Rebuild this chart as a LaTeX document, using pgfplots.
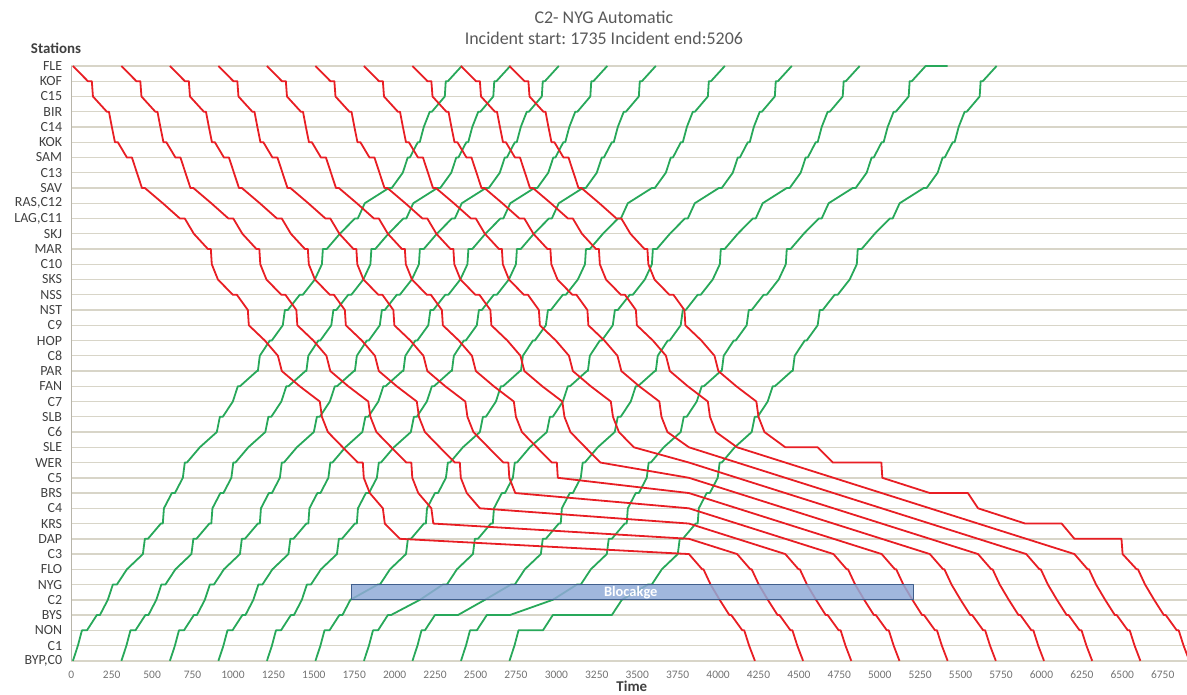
\documentclass[border=0pt]{standalone}
\usepackage{fontspec}
\setmainfont{Carlito}
\usepackage{pgfplots}
\pgfplotsset{compat=1.18}
\definecolor{rline}{RGB}{232,30,36}
\definecolor{gline}{RGB}{40,168,90}
\definecolor{gridc}{RGB}{216,213,200}
\definecolor{boxfill}{RGB}{143,170,215}
\definecolor{boxedge}{RGB}{65,95,140}
\definecolor{txt}{RGB}{64,64,64}
\definecolor{ttl}{RGB}{89,89,89}
\definecolor{tickc}{RGB}{115,115,115}
\frenchspacing
\begin{document}
\begin{tikzpicture}
\begin{axis}[
  scale only axis, width=1116bp, height=595bp,
  xmin=0, xmax=6900, ymin=0, ymax=39,
  clip=false,
  axis x line*=bottom, axis y line*=left,
  x axis line style={draw=none},
  y axis line style={draw=gridc!85!black, line width=1.4bp},
  major tick length=0pt,
  xtick={0,250,...,6750},
  ytick={0,...,39},
  yticklabels={{BYP,C0},C1,NON,BYS,C2,NYG,FLO,C3,DAP,KRS,C4,BRS,C5,WER,SLE,C6,SLB,C7,FAN,PAR,C8,HOP,C9,NST,NSS,SKS,C10,MAR,SKJ,{LAG,C11},{RAS,C12},SAV,C13,SAM,KOK,C14,BIR,C15,KOF,FLE},
  ymajorgrids, grid style={draw=gridc, line width=1.4bp},
  xticklabel style={font=\fontsize{11.5}{12}\selectfont, text=tickc, inner sep=0pt, yshift=-10bp},
  yticklabel style={font=\fontsize{14}{15}\selectfont, text=txt, inner sep=0pt, xshift=-9bp},
  /pgf/number format/assume math mode=true,
  /pgf/number format/1000 sep={},
  every axis plot/.append style={line width=1.8bp, line join=round},
]
% northbound (green)
\addplot[gline] coordinates {(10,0)(41,1)(66,2)(97,2)(158,3)(177,3)(226,4)(257,5)(282,5)(344,6)(443,7)(455,8)(474,8)(554,9)(566,9)(573,10)(622,11)(641,11)(690,12)(702,13)(715,13)(795,14)(900,15)(919,16)(937,16)(999,17)(1030,18)(1043,18)(1148,19)(1154,19)(1166,20)(1228,21)(1240,21)(1308,22)(1321,23)(1339,23)(1413,24)(1432,24)(1506,25)(1550,26)(1556,27)(1580,27)(1661,28)(1754,29)(1772,29)(1815,30)(1964,31)(1982,31)(2050,32)(2081,33)(2094,33)(2143,34)(2155,34)(2180,35)(2217,36)(2230,36)(2310,37)(2316,38)(2329,38)(2415,39)};
\addplot[gline] coordinates {(310,0)(341,1)(366,2)(397,2)(458,3)(477,3)(526,4)(557,5)(582,5)(644,6)(743,7)(755,8)(774,8)(854,9)(866,9)(873,10)(922,11)(941,11)(990,12)(1002,13)(1015,13)(1095,14)(1200,15)(1219,16)(1237,16)(1299,17)(1330,18)(1343,18)(1448,19)(1454,19)(1466,20)(1528,21)(1540,21)(1608,22)(1621,23)(1639,23)(1713,24)(1732,24)(1806,25)(1850,26)(1856,27)(1880,27)(1961,28)(2054,29)(2072,29)(2115,30)(2264,31)(2282,31)(2350,32)(2381,33)(2394,33)(2443,34)(2455,34)(2480,35)(2517,36)(2530,36)(2610,37)(2616,38)(2629,38)(2715,39)};
\addplot[gline] coordinates {(610,0)(641,1)(666,2)(697,2)(758,3)(777,3)(826,4)(857,5)(882,5)(944,6)(1043,7)(1055,8)(1074,8)(1154,9)(1166,9)(1173,10)(1222,11)(1241,11)(1290,12)(1302,13)(1315,13)(1395,14)(1500,15)(1519,16)(1537,16)(1599,17)(1630,18)(1643,18)(1748,19)(1754,19)(1766,20)(1828,21)(1840,21)(1908,22)(1921,23)(1939,23)(2013,24)(2032,24)(2106,25)(2150,26)(2156,27)(2180,27)(2261,28)(2354,29)(2372,29)(2415,30)(2564,31)(2582,31)(2650,32)(2681,33)(2694,33)(2743,34)(2755,34)(2780,35)(2817,36)(2830,36)(2910,37)(2916,38)(2929,38)(3015,39)};
\addplot[gline] coordinates {(910,0)(941,1)(966,2)(997,2)(1058,3)(1077,3)(1126,4)(1157,5)(1182,5)(1244,6)(1343,7)(1355,8)(1374,8)(1454,9)(1466,9)(1473,10)(1522,11)(1541,11)(1590,12)(1602,13)(1615,13)(1695,14)(1800,15)(1819,16)(1837,16)(1899,17)(1930,18)(1943,18)(2048,19)(2054,19)(2066,20)(2128,21)(2140,21)(2208,22)(2221,23)(2239,23)(2313,24)(2332,24)(2406,25)(2450,26)(2456,27)(2480,27)(2561,28)(2654,29)(2672,29)(2715,30)(2864,31)(2882,31)(2950,32)(2981,33)(2994,33)(3043,34)(3055,34)(3080,35)(3117,36)(3130,36)(3210,37)(3216,38)(3229,38)(3315,39)};
\addplot[gline] coordinates {(1210,0)(1241,1)(1266,2)(1297,2)(1358,3)(1377,3)(1426,4)(1457,5)(1482,5)(1544,6)(1643,7)(1655,8)(1674,8)(1754,9)(1766,9)(1773,10)(1822,11)(1841,11)(1890,12)(1902,13)(1915,13)(1995,14)(2100,15)(2119,16)(2137,16)(2199,17)(2230,18)(2243,18)(2348,19)(2354,19)(2366,20)(2428,21)(2440,21)(2508,22)(2521,23)(2539,23)(2613,24)(2632,24)(2706,25)(2750,26)(2756,27)(2780,27)(2861,28)(2954,29)(2972,29)(3015,30)(3164,31)(3182,31)(3250,32)(3281,33)(3294,33)(3343,34)(3355,34)(3380,35)(3417,36)(3430,36)(3510,37)(3516,38)(3529,38)(3615,39)};
\addplot[gline] coordinates {(1510,0)(1541,1)(1566,2)(1597,2)(1658,3)(1677,3)(1726,4)(1895,5)(1909,5)(1971,6)(2070,7)(2082,8)(2101,8)(2181,9)(2193,9)(2200,10)(2249,11)(2268,11)(2317,12)(2329,13)(2342,13)(2422,14)(2527,15)(2546,16)(2564,16)(2626,17)(2657,18)(2670,18)(2775,19)(2781,19)(2793,20)(2855,21)(2867,21)(2935,22)(2948,23)(2966,23)(3040,24)(3059,24)(3133,25)(3177,26)(3183,27)(3207,27)(3288,28)(3381,29)(3399,29)(3442,30)(3591,31)(3609,31)(3677,32)(3708,33)(3721,33)(3770,34)(3782,34)(3807,35)(3844,36)(3857,36)(3937,37)(3943,38)(3956,38)(4042,39)};
\addplot[gline] coordinates {(1810,0)(1841,1)(1866,2)(1897,2)(1958,3)(1977,3)(2156,4)(2298,5)(2323,5)(2385,6)(2484,7)(2496,8)(2515,8)(2595,9)(2607,9)(2614,10)(2663,11)(2682,11)(2731,12)(2743,13)(2756,13)(2836,14)(2941,15)(2960,16)(2978,16)(3040,17)(3071,18)(3084,18)(3189,19)(3195,19)(3207,20)(3269,21)(3281,21)(3349,22)(3362,23)(3380,23)(3454,24)(3473,24)(3547,25)(3591,26)(3597,27)(3621,27)(3702,28)(3795,29)(3813,29)(3856,30)(4005,31)(4023,31)(4091,32)(4122,33)(4135,33)(4184,34)(4196,34)(4221,35)(4258,36)(4271,36)(4351,37)(4357,38)(4370,38)(4456,39)};
\addplot[gline] coordinates {(2110,0)(2141,1)(2166,2)(2187,2)(2249,3)(2391,3)(2558,4)(2719,5)(2743,5)(2805,6)(2904,7)(2916,8)(2935,8)(3015,9)(3027,9)(3034,10)(3083,11)(3102,11)(3151,12)(3163,13)(3176,13)(3256,14)(3361,15)(3380,16)(3398,16)(3460,17)(3491,18)(3504,18)(3609,19)(3615,19)(3627,20)(3689,21)(3701,21)(3769,22)(3782,23)(3800,23)(3874,24)(3893,24)(3967,25)(4011,26)(4017,27)(4041,27)(4122,28)(4215,29)(4233,29)(4276,30)(4425,31)(4443,31)(4511,32)(4542,33)(4555,33)(4604,34)(4616,34)(4641,35)(4678,36)(4691,36)(4771,37)(4777,38)(4790,38)(4876,39)};
\addplot[gline] coordinates {(2410,0)(2441,1)(2466,2)(2508,2)(2570,3)(2712,3)(2978,4)(3127,5)(3151,5)(3213,6)(3312,7)(3324,8)(3343,8)(3423,9)(3435,9)(3442,10)(3491,11)(3510,11)(3559,12)(3571,13)(3584,13)(3664,14)(3769,15)(3788,16)(3806,16)(3868,17)(3899,18)(3912,18)(4017,19)(4023,19)(4035,20)(4097,21)(4109,21)(4177,22)(4190,23)(4208,23)(4282,24)(4301,24)(4375,25)(4419,26)(4425,27)(4449,27)(4530,28)(4623,29)(4641,29)(4684,30)(4833,31)(4851,31)(4919,32)(4950,33)(4963,33)(5012,34)(5024,34)(5049,35)(5086,36)(5099,36)(5179,37)(5185,38)(5198,38)(5284,39)(5420,39)};
\addplot[gline] coordinates {(2710,0)(2741,1)(2766,2)(2917,2)(2978,3)(3343,3)(3405,4)(3566,5)(3590,5)(3652,6)(3751,7)(3763,8)(3782,8)(3862,9)(3874,9)(3881,10)(3930,11)(3949,11)(3998,12)(4010,13)(4023,13)(4103,14)(4208,15)(4227,16)(4245,16)(4307,17)(4338,18)(4351,18)(4456,19)(4462,19)(4474,20)(4536,21)(4548,21)(4616,22)(4629,23)(4647,23)(4721,24)(4740,24)(4814,25)(4858,26)(4864,27)(4888,27)(4969,28)(5062,29)(5080,29)(5123,30)(5272,31)(5290,31)(5358,32)(5389,33)(5402,33)(5451,34)(5463,34)(5488,35)(5525,36)(5538,36)(5618,37)(5624,38)(5637,38)(5723,39)};
% southbound (red)
\addplot[rline] coordinates {(10,39)(103,38)(127,38)(134,37)(220,36)(233,36)(251,35)(270,34)(288,34)(344,33)(375,33)(406,32)(437,31)(455,31)(566,30)(672,29)(702,29)(758,28)(845,27)(863,27)(869,26)(907,25)(999,24)(1024,24)(1092,23)(1098,22)(1197,21)(1278,20)(1302,19)(1413,18)(1537,17)(1550,16)(1587,15)(1679,14)(1772,13)(1803,13)(1809,12)(1846,11)(1927,10)(1939,9)(2032,8)(3820,7)(3902,6)(3910,6)(3954,5)(4010,4)(4070,3)(4082,3)(4150,2)(4162,2)(4192,1)(4228,0)};
\addplot[rline] coordinates {(310,39)(403,38)(427,38)(434,37)(520,36)(533,36)(551,35)(570,34)(588,34)(644,33)(675,33)(706,32)(737,31)(755,31)(866,30)(972,29)(1002,29)(1058,28)(1145,27)(1163,27)(1169,26)(1207,25)(1299,24)(1324,24)(1392,23)(1398,22)(1497,21)(1578,20)(1602,19)(1713,18)(1837,17)(1850,16)(1887,15)(1979,14)(2072,13)(2103,13)(2109,12)(2146,11)(2227,10)(2239,9)(3820,8)(4118,7)(4200,6)(4208,6)(4252,5)(4308,4)(4368,3)(4380,3)(4448,2)(4460,2)(4490,1)(4526,0)};
\addplot[rline] coordinates {(610,39)(703,38)(727,38)(734,37)(820,36)(833,36)(851,35)(870,34)(888,34)(944,33)(975,33)(1006,32)(1037,31)(1055,31)(1166,30)(1272,29)(1302,29)(1358,28)(1445,27)(1463,27)(1469,26)(1507,25)(1599,24)(1624,24)(1692,23)(1698,22)(1797,21)(1878,20)(1902,19)(2013,18)(2137,17)(2150,16)(2187,15)(2279,14)(2372,13)(2403,13)(2409,12)(2446,11)(2527,10)(3820,9)(4118,8)(4416,7)(4498,6)(4506,6)(4550,5)(4606,4)(4666,3)(4678,3)(4746,2)(4758,2)(4788,1)(4824,0)};
\addplot[rline] coordinates {(910,39)(1003,38)(1027,38)(1034,37)(1120,36)(1133,36)(1151,35)(1170,34)(1188,34)(1244,33)(1275,33)(1306,32)(1337,31)(1355,31)(1466,30)(1572,29)(1602,29)(1658,28)(1745,27)(1763,27)(1769,26)(1807,25)(1899,24)(1924,24)(1992,23)(1998,22)(2097,21)(2178,20)(2202,19)(2313,18)(2437,17)(2450,16)(2487,15)(2579,14)(2672,13)(2703,13)(2709,12)(2746,11)(3820,10)(4118,9)(4416,8)(4714,7)(4796,6)(4804,6)(4848,5)(4904,4)(4964,3)(4976,3)(5044,2)(5056,2)(5086,1)(5122,0)};
\addplot[rline] coordinates {(1210,39)(1303,38)(1327,38)(1334,37)(1420,36)(1433,36)(1451,35)(1470,34)(1488,34)(1544,33)(1575,33)(1606,32)(1637,31)(1655,31)(1766,30)(1872,29)(1902,29)(1958,28)(2045,27)(2063,27)(2069,26)(2107,25)(2199,24)(2224,24)(2292,23)(2298,22)(2397,21)(2478,20)(2502,19)(2613,18)(2737,17)(2750,16)(2787,15)(2879,14)(2972,13)(3003,13)(3009,12)(3820,11)(4118,10)(4416,9)(4714,8)(5012,7)(5094,6)(5102,6)(5146,5)(5202,4)(5262,3)(5274,3)(5342,2)(5354,2)(5384,1)(5420,0)};
\addplot[rline] coordinates {(1510,39)(1603,38)(1627,38)(1634,37)(1720,36)(1733,36)(1751,35)(1770,34)(1788,34)(1844,33)(1875,33)(1906,32)(1937,31)(1955,31)(2066,30)(2172,29)(2202,29)(2258,28)(2345,27)(2363,27)(2369,26)(2407,25)(2499,24)(2524,24)(2592,23)(2598,22)(2697,21)(2778,20)(2802,19)(2913,18)(3037,17)(3050,16)(3087,15)(3179,14)(3272,13)(3820,12)(4118,11)(4416,10)(4714,9)(5012,8)(5310,7)(5392,6)(5400,6)(5444,5)(5500,4)(5560,3)(5572,3)(5640,2)(5652,2)(5682,1)(5718,0)};
\addplot[rline] coordinates {(1810,39)(1903,38)(1927,38)(1934,37)(2020,36)(2033,36)(2051,35)(2070,34)(2088,34)(2144,33)(2175,33)(2206,32)(2237,31)(2255,31)(2366,30)(2472,29)(2502,29)(2558,28)(2645,27)(2663,27)(2669,26)(2707,25)(2799,24)(2824,24)(2892,23)(2898,22)(2997,21)(3078,20)(3102,19)(3213,18)(3337,17)(3350,16)(3387,15)(3479,14)(3820,13)(4118,12)(4416,11)(4714,10)(5012,9)(5310,8)(5608,7)(5690,6)(5698,6)(5742,5)(5798,4)(5858,3)(5870,3)(5938,2)(5950,2)(5980,1)(6016,0)};
\addplot[rline] coordinates {(2110,39)(2203,38)(2227,38)(2234,37)(2320,36)(2333,36)(2351,35)(2370,34)(2388,34)(2444,33)(2475,33)(2506,32)(2537,31)(2555,31)(2666,30)(2772,29)(2802,29)(2858,28)(2945,27)(2963,27)(2969,26)(3007,25)(3099,24)(3124,24)(3192,23)(3198,22)(3297,21)(3378,20)(3402,19)(3513,18)(3637,17)(3650,16)(3687,15)(3820,14)(4118,13)(4416,12)(4714,11)(5012,10)(5310,9)(5608,8)(5906,7)(5988,6)(5996,6)(6040,5)(6096,4)(6156,3)(6168,3)(6236,2)(6248,2)(6278,1)(6314,0)};
\addplot[rline] coordinates {(2410,39)(2503,38)(2527,38)(2534,37)(2620,36)(2633,36)(2651,35)(2670,34)(2688,34)(2744,33)(2775,33)(2806,32)(2837,31)(2855,31)(2966,30)(3072,29)(3102,29)(3158,28)(3245,27)(3263,27)(3269,26)(3307,25)(3399,24)(3424,24)(3492,23)(3498,22)(3597,21)(3678,20)(3702,19)(3813,18)(3937,17)(3950,16)(3987,15)(4118,14)(4416,13)(4714,12)(5012,11)(5310,10)(5608,9)(5906,8)(6204,7)(6286,6)(6294,6)(6338,5)(6394,4)(6454,3)(6466,3)(6534,2)(6546,2)(6576,1)(6612,0)};
\addplot[rline] coordinates {(2710,39)(2803,38)(2827,38)(2834,37)(2920,36)(2933,36)(2951,35)(2970,34)(2988,34)(3044,33)(3075,33)(3106,32)(3137,31)(3155,31)(3266,30)(3372,29)(3402,29)(3458,28)(3545,27)(3563,27)(3569,26)(3607,25)(3699,24)(3724,24)(3792,23)(3798,22)(3897,21)(3978,20)(4002,19)(4113,18)(4237,17)(4250,16)(4287,15)(4416,14)(4616,14)(4710,13)(5010,13)(5016,12)(5310,11)(5545,11)(5608,10)(5900,9)(6125,9)(6204,8)(6495,8)(6502,7)(6589,6)(6597,6)(6641,5)(6697,4)(6757,3)(6769,3)(6837,2)(6849,2)(6879,1)(6915,0)};
% blockage
\addplot[draw=boxedge, fill=boxfill, fill opacity=0.85, line width=1bp] coordinates {(1735,4)(5206,4)(5206,5)(1735,5)(1735,4)};
\node[font=\bfseries\fontsize{14.5}{15}\selectfont, text=white] at (axis cs:3460,4.5) {Blocakge};
\end{axis}
\node[anchor=base, font=\fontsize{18}{20}\selectfont, text=ttl] at (532.7bp,637bp) {C2- NYG Automatic};
\node[anchor=base, font=\fontsize{18}{20}\selectfont, text=ttl] at (532.7bp,616bp) {Incident start: 1735 Incident end:5206};
\node[anchor=base, font=\bfseries\fontsize{15}{16}\selectfont, text=txt] at (-15.3bp,607bp) {Stations};
\node[anchor=base, font=\bfseries\fontsize{15}{16}\selectfont, text=txt] at (560.7bp,-31bp) {Time};
\pgfresetboundingbox
\path[use as bounding box] (-71.3bp,-34bp) rectangle (1116bp,661bp);
\end{tikzpicture}
\end{document}
